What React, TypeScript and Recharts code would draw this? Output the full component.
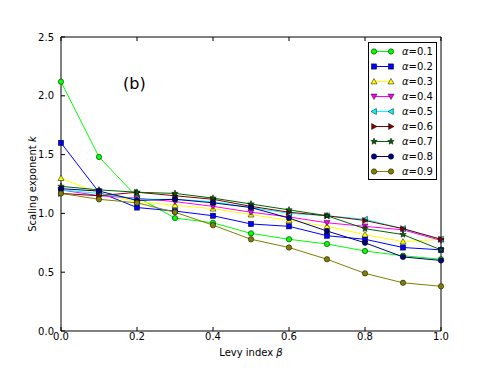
import { Legend, Line, LineChart, XAxis, YAxis } from "recharts";

// Levy index beta (x) and scaling exponent k for each alpha
const beta = [0, 0.1, 0.2, 0.3, 0.4, 0.5, 0.6, 0.7, 0.8, 0.9, 1.0];

const a01 = [2.12, 1.48, 1.14, 0.96, 0.92, 0.83, 0.78, 0.74, 0.68, 0.64, 0.61];
const a02 = [1.6, 1.18, 1.05, 1.02, 0.98, 0.91, 0.89, 0.81, 0.78, 0.71, 0.69];
const a03 = [1.3, 1.17, 1.1, 1.07, 1.04, 0.99, 0.94, 0.89, 0.82, 0.76, 0.78];
const a04 = [1.2, 1.15, 1.13, 1.1, 1.06, 1.01, 0.97, 0.92, 0.89, 0.86, 0.77];
const a05 = [1.2, 1.17, 1.12, 1.12, 1.1, 1.05, 1.0, 0.98, 0.95, 0.87, 0.78];
const a06 = [1.17, 1.15, 1.18, 1.15, 1.12, 1.06, 1.01, 0.98, 0.94, 0.87, 0.78];
const a07 = [1.23, 1.2, 1.18, 1.17, 1.13, 1.08, 1.03, 0.98, 0.87, 0.82, 0.69];
const a08 = [1.21, 1.19, 1.11, 1.12, 1.09, 1.05, 0.96, 0.85, 0.75, 0.63, 0.6];
const a09 = [1.17, 1.12, 1.09, 1.01, 0.9, 0.78, 0.71, 0.61, 0.49, 0.41, 0.38];

const xTicks = [0, 0.2, 0.4, 0.6, 0.8, 1.0];
const yTicks = [0, 0.5, 1.0, 1.5, 2.0, 2.5];

type Shape = "circle" | "square" | "up" | "down" | "left" | "right" | "star";

const series: { key: string; label: string; color: string; shape: Shape; values: number[] }[] = [
  { key: "a01", label: "0.1", color: "#00ff00", shape: "circle", values: a01 },
  { key: "a02", label: "0.2", color: "#0000ff", shape: "square", values: a02 },
  { key: "a03", label: "0.3", color: "#ffff00", shape: "up", values: a03 },
  { key: "a04", label: "0.4", color: "#ff00ff", shape: "down", values: a04 },
  { key: "a05", label: "0.5", color: "#00ffff", shape: "left", values: a05 },
  { key: "a06", label: "0.6", color: "#800000", shape: "right", values: a06 },
  { key: "a07", label: "0.7", color: "#006400", shape: "star", values: a07 },
  { key: "a08", label: "0.8", color: "#000080", shape: "circle", values: a08 },
  { key: "a09", label: "0.9", color: "#808000", shape: "circle", values: a09 },
];

const data = beta.map((b, i) => {
  const row: Record<string, number> = { beta: b };
  series.forEach((s) => (row[s.key] = s.values[i]));
  return row;
});

const FONT = "'DejaVu Sans', sans-serif";

function Marker({ cx, cy, shape, fill }: { cx: number; cy: number; shape: Shape; fill: string }) {
  const sw = 0.5;
  if (shape === "circle") return <circle cx={cx} cy={cy} r={2.7} fill={fill} stroke="#000" strokeWidth={sw} />;
  if (shape === "square")
    return <rect x={cx - 2.6} y={cy - 2.6} width={5.2} height={5.2} fill={fill} stroke="#000" strokeWidth={sw} />;
  if (shape === "star") {
    const pts: string[] = [];
    for (let k = 0; k < 10; k++) {
      const rad = k % 2 === 0 ? 3.4 : 1.4;
      const ang = -Math.PI / 2 + (k * Math.PI) / 5;
      pts.push(`${cx + rad * Math.cos(ang)},${cy + rad * Math.sin(ang)}`);
    }
    return <polygon points={pts.join(" ")} fill={fill} stroke="#000" strokeWidth={sw} />;
  }
  const d = 3;
  let pts = "";
  if (shape === "up") pts = `${cx},${cy - d} ${cx - d},${cy + d * 0.8} ${cx + d},${cy + d * 0.8}`;
  if (shape === "down") pts = `${cx},${cy + d} ${cx - d},${cy - d * 0.8} ${cx + d},${cy - d * 0.8}`;
  if (shape === "left") pts = `${cx - d},${cy} ${cx + d * 0.8},${cy - d} ${cx + d * 0.8},${cy + d}`;
  if (shape === "right") pts = `${cx + d},${cy} ${cx - d * 0.8},${cy - d} ${cx - d * 0.8},${cy + d}`;
  return <polygon points={pts} fill={fill} stroke="#000" strokeWidth={sw} />;
}

function LegendBox() {
  return (
    <div
      style={{
        border: "1px solid #000",
        background: "#fff",
        width: 67,
        padding: "1px 0 0 0",
        fontFamily: FONT,
        fontSize: 10,
        color: "#000",
      }}
    >
      {series.map((s) => (
        <div key={s.key} style={{ display: "flex", alignItems: "center", height: 15 }}>
          <svg width={30} height={15} style={{ display: "block" }}>
            <line x1={5} y1={7.5} x2={22} y2={7.5} stroke={s.color} strokeWidth={1} />
            <Marker cx={5} cy={7.5} shape={s.shape} fill={s.color} />
            <Marker cx={22} cy={7.5} shape={s.shape} fill={s.color} />
          </svg>
          <span style={{ marginLeft: 3, whiteSpace: "nowrap" }}>
            <i>α</i>={s.label}
          </span>
        </div>
      ))}
    </div>
  );
}

const labelStyle = { fontSize: 10, fill: "#000", fontFamily: FONT };

function XLabel(props: any) {
  const vb = props.viewBox || {};
  return (
    <text x={vb.x + vb.width / 2} y={356} textAnchor="middle" style={labelStyle}>
      Levy index <tspan fontStyle="italic">β</tspan>
    </text>
  );
}

function YLabel(props: any) {
  const vb = props.viewBox || {};
  const cy = vb.y + vb.height / 2;
  return (
    <text x={36} y={cy} textAnchor="middle" transform={`rotate(-90, 36, ${cy})`} style={labelStyle}>
      Scaling exponent <tspan fontStyle="italic">k</tspan>
    </text>
  );
}

export default function App() {
  const tickStyle = { fontSize: 10, fill: "#000", fontFamily: FONT };
  return (
    <div style={{ position: "absolute", left: 0, top: 0, width: 491, height: 368, background: "#fff" }}>
      <LineChart width={491} height={368} data={data} margin={{ top: 36, right: 49, left: 0, bottom: 0 }}>
        <XAxis
          dataKey="beta"
          type="number"
          domain={[0, 1]}
          ticks={xTicks}
          tickFormatter={(v: number) => v.toFixed(1)}
          tick={tickStyle}
          tickSize={-4}
          tickMargin={6}
          stroke="#000"
          height={37}
          label={<XLabel />}
        />
        <XAxis
          xAxisId="top"
          dataKey="beta"
          type="number"
          orientation="top"
          domain={[0, 1]}
          ticks={xTicks}
          tickFormatter={() => ""}
          tickSize={-4}
          stroke="#000"
          height={1}
        />
        <YAxis
          type="number"
          domain={[0, 2.5]}
          ticks={yTicks}
          tickFormatter={(v: number) => v.toFixed(1)}
          tick={tickStyle}
          tickSize={-4}
          tickMargin={11}
          stroke="#000"
          width={61}
          label={<YLabel />}
        />
        <YAxis
          yAxisId="right"
          type="number"
          orientation="right"
          domain={[0, 2.5]}
          ticks={yTicks}
          tickFormatter={() => ""}
          tickSize={-4}
          stroke="#000"
          width={1}
        />
        {series.map((s) => (
          <Line
            key={s.key}
            dataKey={s.key}
            name={s.label}
            stroke={s.color}
            strokeWidth={1}
            isAnimationActive={false}
            dot={(p: any) => <Marker key={`${s.key}-${p.index}`} cx={p.cx} cy={p.cy} shape={s.shape} fill={s.color} />}
            activeDot={false}
          />
        ))}
        <Legend
          layout="vertical"
          align="center"
          verticalAlign="middle"
          content={() => <LegendBox />}
          wrapperStyle={{ position: "absolute", left: 368, top: 42, width: 69, height: 136 }}
        />
      </LineChart>
      <div
        style={{
          position: "absolute",
          left: 123,
          top: 74,
          fontFamily: FONT,
          fontSize: 16,
          color: "#000",
        }}
      >
        (b)
      </div>
    </div>
  );
}
